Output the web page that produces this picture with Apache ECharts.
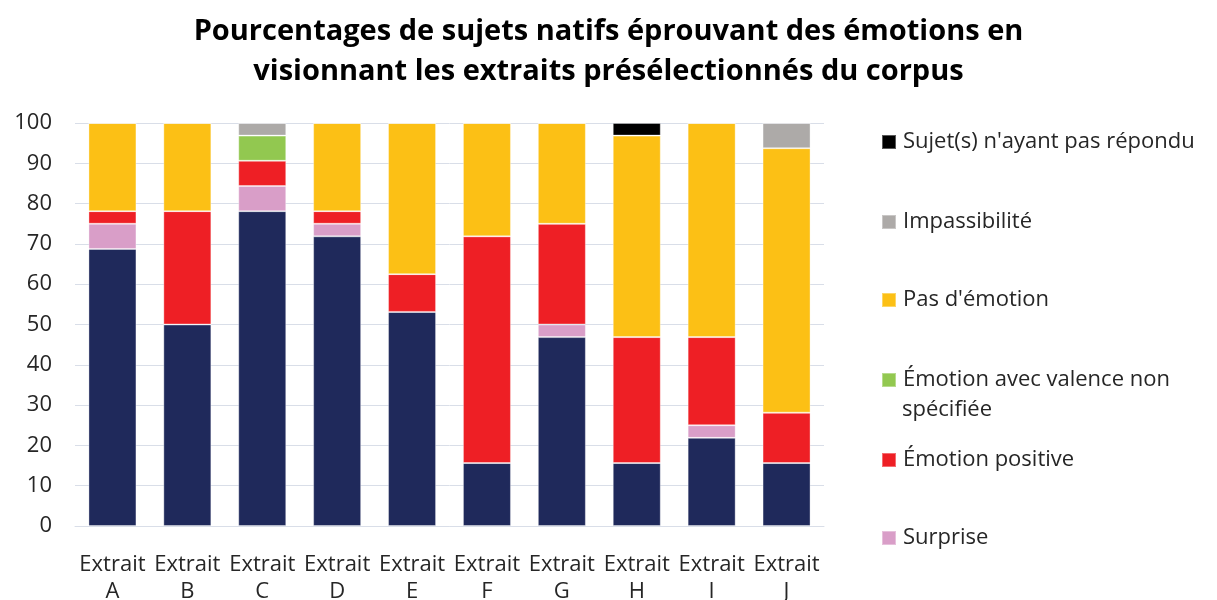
<!DOCTYPE html>
<html>
<head>
<meta charset="utf-8">
<title>Pourcentages de sujets natifs</title>
<script src="https://cdn.jsdelivr.net/npm/echarts@6/dist/echarts.min.js"></script>
<style>
  html, body { margin: 0; padding: 0; background: #fff; }
  #chart { width: 1217px; height: 600px; }
</style>
</head>
<body>
<div id="chart"></div>
<script>
// catégories (axe x)
const categories = ['Extrait\nA', 'Extrait\nB', 'Extrait\nC', 'Extrait\nD', 'Extrait\nE',
                    'Extrait\nF', 'Extrait\nG', 'Extrait\nH', 'Extrait\nI', 'Extrait\nJ'];
const yTicks = [0, 10, 20, 30, 40, 50, 60, 70, 80, 90, 100];

// valeurs en %, de bas en haut de la pile
const negative    = [68.75, 50, 78.125, 71.875, 53.125, 15.625, 46.875, 15.625, 21.875, 15.625];
const surprise    = [6.25, 0, 6.25, 3.125, 0, 0, 3.125, 0, 3.125, 0];
const positive    = [3.125, 28.125, 6.25, 3.125, 9.375, 56.25, 25, 31.25, 21.875, 12.5];
const nonSpecifie = [0, 0, 6.25, 0, 0, 0, 0, 0, 0, 0];
const pasEmotion  = [21.875, 21.875, 0, 21.875, 37.5, 28.125, 25, 50, 53.125, 65.625];
const impassible  = [0, 0, 3.125, 0, 0, 0, 0, 0, 0, 6.25];
const sansReponse = [0, 0, 0, 0, 0, 0, 0, 3.125, 0, 0];

const font = '"Open Sans", "Noto Sans", sans-serif';

const seriesDefs = [
  { name: 'Émotion négative', data: negative, color: '#1F295B' },
  { name: 'Surprise', data: surprise, color: '#D99EC8' },
  { name: 'Émotion positive', data: positive, color: '#EE1F25' },
  { name: 'Émotion avec valence non spécifiée', data: nonSpecifie, color: '#92C850' },
  { name: "Pas d'émotion", data: pasEmotion, color: '#FCC015' },
  { name: 'Impassibilité', data: impassible, color: '#ADAAA8' },
  { name: "Sujet(s) n'ayant pas répondu", data: sansReponse, color: '#000000' }
];

// une légende par entrée, positions comme dans l'original
const legendTops = {
  "Sujet(s) n'ayant pas répondu": 126,
  'Impassibilité': 206,
  "Pas d'émotion": 284,
  'Émotion avec valence non spécifiée': 364,
  'Émotion positive': 444,
  'Surprise': 522
};

const legends = Object.keys(legendTops).map(function (name) {
  return {
    data: [name],
    left: 876,
    top: legendTops[name],
    orient: 'vertical',
    icon: 'rect',
    itemWidth: 14,
    itemHeight: 14,
    selectedMode: false,
    formatter: function (n) {
      return n === 'Émotion avec valence non spécifiée' ? 'Émotion avec valence non' : n;
    },
    textStyle: { fontFamily: font, fontSize: 22, color: '#262626', padding: [0, 0, 0, 2] }
  };
});

const chart = echarts.init(document.getElementById('chart'));
chart.setOption({
  animation: false,
  title: {
    text: 'Pourcentages de sujets natifs éprouvant des émotions en\nvisionnant les extraits présélectionnés du corpus',
    left: 'center',
    top: 7,
    textStyle: { fontFamily: font, fontSize: 29, fontWeight: 'bold', color: '#000', lineHeight: 40 }
  },
  legend: legends,
  graphic: [{
    type: 'text',
    left: 902,
    top: 399,
    style: { text: 'spécifiée', fontFamily: font, fontSize: 22, fill: '#262626' }
  }],
  grid: { left: 75, right: 393, top: 123, bottom: 74, outerBoundsMode: 'none', containLabel: false },
  xAxis: {
    type: 'category',
    data: categories,
    axisTick: { show: false },
    axisLine: { lineStyle: { color: '#D9DEE8', width: 1 } },
    axisLabel: { fontFamily: font, fontSize: 22, color: '#262626', lineHeight: 27, margin: 25, interval: 0 }
  },
  yAxis: {
    type: 'value',
    min: yTicks[0],
    max: yTicks[yTicks.length - 1],
    interval: 10,
    axisLine: { show: false },
    axisTick: { show: false },
    splitLine: { lineStyle: { color: '#D9DEE8', width: 1 } },
    axisLabel: { fontFamily: font, fontSize: 22, color: '#262626', margin: 23 }
  },
  series: seriesDefs.map(function (s) {
    return {
      name: s.name,
      type: 'bar',
      stack: 'total',
      data: s.data,
      barWidth: 48,
      itemStyle: { color: s.color, borderColor: 'rgba(255,255,255,0.35)', borderWidth: 1 }
    };
  })
});
</script>
</body>
</html>
